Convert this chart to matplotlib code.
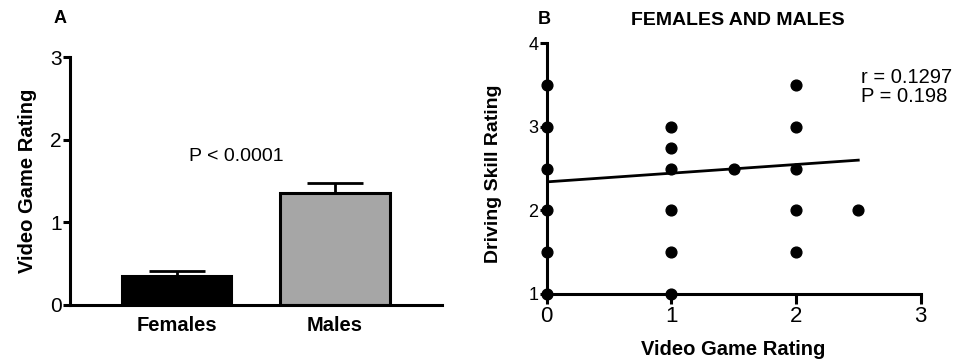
import matplotlib
matplotlib.use("Agg")
import matplotlib.pyplot as plt

plt.rcParams['font.family'] = ['Liberation Sans', 'DejaVu Sans']

# panel A data
groups = ["Females", "Males"]
means = [0.35, 1.36]
sems = [0.06, 0.12]
bar_colors = ["black", "#a6a6a6"]

# panel B data
game_rating = [0, 0, 0, 0, 0, 0,
               1, 1, 1, 1, 1, 1,
               1.5,
               2, 2, 2, 2, 2,
               2.5]
driving_rating = [1, 1.5, 2, 2.5, 3, 3.5,
                  1, 1.5, 2, 2.5, 2.75, 3,
                  2.5,
                  1.5, 2, 2.5, 3, 3.5,
                  2]
fit_x = [0, 2.5]
fit_y = [2.34, 2.6]

fig = plt.figure(figsize=(9.64, 3.62), dpi=100)

# ---- panel A
ax1 = fig.add_axes([0.0726, 0.1575, 0.386, 0.685])
pos = list(range(len(groups)))
ax1.bar(pos, means, width=0.69, color=bar_colors, edgecolor="black", linewidth=2.2, zorder=2)
ax1.errorbar(pos, means, yerr=[[0, 0], sems], fmt="none", ecolor="black",
             elinewidth=2, capsize=20, capthick=2, zorder=1)
ax1.set_xlim(-0.672, 1.675)
ax1.set_ylim(0, 3)
ax1.set_yticks([0, 1, 2, 3])
ax1.set_xticks(pos)
ax1.set_xticklabels(groups, fontsize=14.5, fontweight="bold")
ax1.tick_params(axis="x", length=0, pad=8)
ax1.tick_params(axis="y", labelsize=15, width=2.2, length=5, pad=1)
ax1.set_ylabel("Video Game Rating", fontsize=14.5, fontweight="bold", labelpad=9)
for s in ["top", "right"]:
    ax1.spines[s].set_visible(False)
for s in ["left", "bottom"]:
    ax1.spines[s].set_linewidth(2.2)
ax1.text(0.38, 1.8, "P < 0.0001", fontsize=14, ha="center", va="center")
fig.text(0.062, 0.948, "A", fontsize=13, fontweight="bold", ha="center", va="center")

# ---- panel B
ax2 = fig.add_axes([0.567, 0.188, 0.388, 0.693])
ax2.scatter(game_rating, driving_rating, s=60, color="black", zorder=3, clip_on=False)
ax2.plot(fit_x, fit_y, color="black", linewidth=2)
ax2.set_xlim(0, 3)
ax2.set_ylim(1, 4)
ax2.set_xticks([0, 1, 2, 3])
ax2.set_yticks([1, 2, 3, 4])
ax2.tick_params(width=2.2)
ax2.tick_params(axis="x", labelsize=16, length=7, pad=2)
ax2.tick_params(axis="y", labelsize=13, length=5, pad=1)
ax2.set_xlabel("Video Game Rating", fontsize=14.5, fontweight="bold", labelpad=9)
ax2.set_ylabel("Driving Skill Rating", fontsize=14, fontweight="bold")
ax2.yaxis.set_label_coords(-0.12, 0.48)
for s in ["top", "right"]:
    ax2.spines[s].set_visible(False)
for s in ["left", "bottom"]:
    ax2.spines[s].set_linewidth(2.2)
fig.text(0.765, 0.942, "FEMALES AND MALES", fontsize=14, fontweight="bold", ha="center", va="center")
ax2.text(2.52, 3.48, "r = 0.1297\nP = 0.198", fontsize=14.5, ha="left", va="center", linespacing=1.0)
fig.text(0.565, 0.945, "B", fontsize=13, fontweight="bold", ha="center", va="center")

fig.savefig("out.png", dpi=100)
